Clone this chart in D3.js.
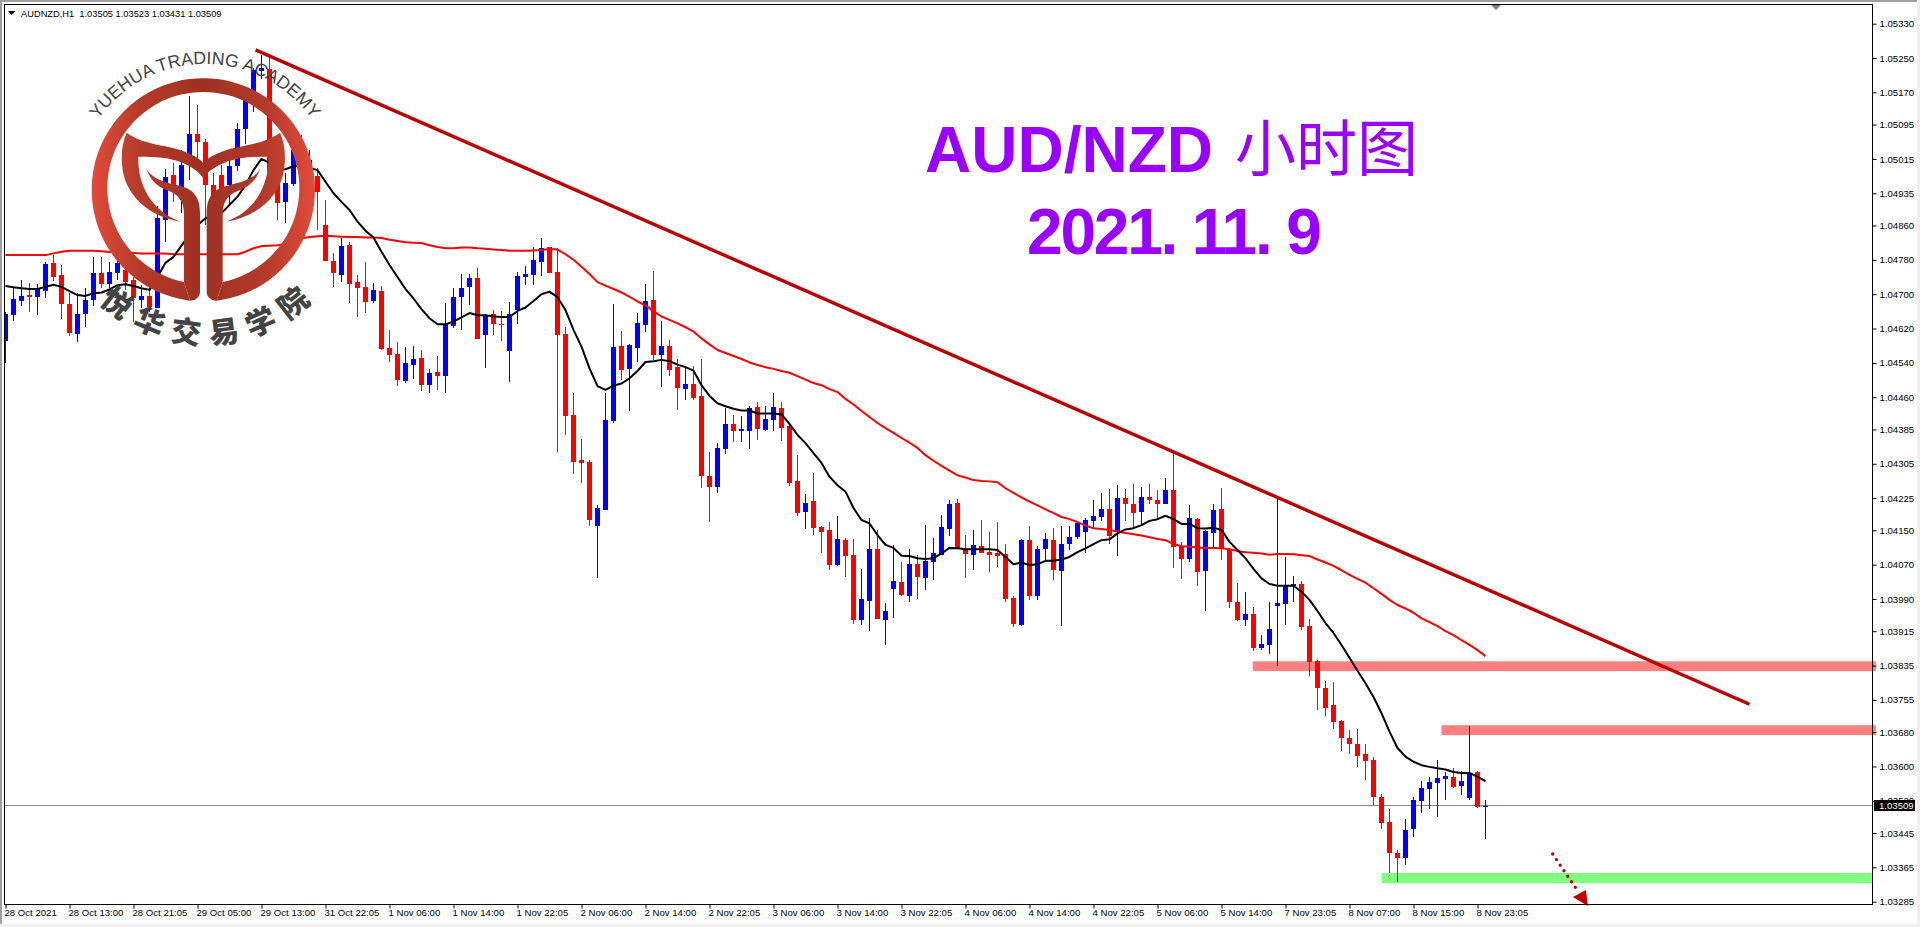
<!DOCTYPE html>
<html>
<head>
<meta charset="utf-8">
<title>AUD/NZD H1</title>
<script src="https://cdnjs.cloudflare.com/ajax/libs/d3/7.8.5/d3.min.js"></script>
<style>
  html, body { margin: 0; padding: 0; background: #fff; overflow: hidden; }
  svg { display: block; }
  .axis text { font-family: "Liberation Sans", sans-serif; font-size: 9.6px; fill: #000; }
  .axis line { stroke: #000; }
</style>
</head>
<body>
<svg width="1920" height="927"></svg>
<script>
const opens = [
  1.04592,1.04651,1.04684,1.04698,1.04694,1.04708,1.04772,1.04744,1.04677,1.04607,
  1.04655,1.04686,1.04749,1.04724,1.04749,1.04756,1.04733,1.04686,1.04696,1.04668,
  1.04873,1.04977,1.04943,1.05001,1.05073,1.05054,1.04954,1.04977,1.04954,1.04998,
  1.05085,1.05152,1.05220,1.05224,1.04984,1.04915,1.04956,1.05047,1.04975,1.04975,
  1.04861,1.04777,1.04744,1.04814,1.04729,1.04717,1.04685,1.04707,1.04575,1.04561,
  1.04498,1.04536,1.04551,1.04488,1.04519,1.04510,1.04626,1.04694,1.04716,1.04737,
  1.04605,1.04654,1.04630,1.04568,1.04663,1.04741,1.04744,1.04775,1.04809,1.04752,
  1.04607,1.04418,1.04314,1.04309,1.04160,1.04197,1.04404,1.04579,1.04526,1.04575,
  1.04628,1.04686,1.04558,1.04579,1.04530,1.04479,1.04491,1.04463,1.04276,1.04251,
  1.04339,1.04398,1.04381,1.04381,1.04437,1.04384,1.04407,1.04435,1.04393,1.04265,
  1.04193,1.04218,1.04158,1.04151,1.04069,1.04127,1.04092,1.03941,1.03985,1.04106,
  1.03941,1.04013,1.04030,1.03997,1.04071,1.04039,1.04076,1.04092,1.04153,1.04213,
  1.04104,1.04092,1.04113,1.04099,1.04097,1.04095,1.03992,1.03929,1.04127,1.03997,
  1.04106,1.04127,1.04055,1.04118,1.04134,1.04146,1.04172,1.04181,1.04200,1.04148,
  1.04225,1.04211,1.04193,1.04227,1.04221,1.04211,1.04244,1.04113,1.04083,1.04176,
  1.04055,1.04144,1.04200,1.04106,1.03983,1.03941,1.03955,1.03876,1.03883,1.03974,
  1.03978,1.04020,1.04025,1.03927,1.03845,1.03783,1.03743,1.03706,1.03666,1.03652,
  1.03629,1.03615,1.03529,1.03471,1.03398,1.03387,1.03454,1.03520,1.03547,1.03561,
  1.03571,1.03575,1.03554,1.03526,1.03587,1.03505
];
const highs = [
  1.04659,1.04714,1.04733,1.04726,1.04724,1.04775,1.04791,1.04768,1.04703,1.04703,
  1.04714,1.04786,1.04786,1.04775,1.04803,1.04784,1.04741,1.04721,1.04717,1.04905,
  1.04991,1.05005,1.05036,1.05161,1.05140,1.05061,1.04982,1.05001,1.05012,1.05098,
  1.05164,1.05227,1.05257,1.05250,1.05001,1.04982,1.05082,1.05071,1.05036,1.04994,
  1.04919,1.04796,1.04831,1.04821,1.04744,1.04775,1.04726,1.04719,1.04616,1.04589,
  1.04578,1.04579,1.04570,1.04525,1.04556,1.04679,1.04714,1.04747,1.04747,1.04760,
  1.04654,1.04663,1.04661,1.04681,1.04752,1.04765,1.04809,1.04832,1.04810,1.04807,
  1.04623,1.04471,1.04363,1.04314,1.04209,1.04470,1.04677,1.04614,1.04585,1.04657,
  1.04723,1.04754,1.04637,1.04593,1.04548,1.04531,1.04533,1.04548,1.04333,1.04353,
  1.04435,1.04418,1.04417,1.04439,1.04449,1.04439,1.04470,1.04449,1.04395,1.04325,
  1.04235,1.04284,1.04160,1.04169,1.04183,1.04132,1.04130,1.04060,1.04179,1.04151,
  1.03981,1.04116,1.04076,1.04106,1.04092,1.04162,1.04132,1.04186,1.04221,1.04223,
  1.04139,1.04151,1.04174,1.04146,1.04169,1.04118,1.03996,1.04130,1.04160,1.04113,
  1.04144,1.04155,1.04160,1.04160,1.04169,1.04179,1.04221,1.04237,1.04246,1.04255,
  1.04246,1.04258,1.04251,1.04258,1.04244,1.04272,1.04330,1.04123,1.04209,1.04179,
  1.04150,1.04211,1.04248,1.04108,1.04027,1.04006,1.03971,1.03906,1.03983,1.04225,
  1.04088,1.04043,1.04032,1.03943,1.03848,1.03799,1.03797,1.03708,1.03685,1.03687,
  1.03652,1.03622,1.03536,1.03501,1.03405,1.03478,1.03529,1.03566,1.03575,1.03615,
  1.03587,1.03596,1.03589,1.03694,1.03589,1.03523
];
const lows = [
  1.04540,1.04638,1.04672,1.04659,1.04651,1.04692,1.04731,1.04642,1.04603,1.04589,
  1.04624,1.04672,1.04715,1.04714,1.04733,1.04710,1.04636,1.04668,1.04659,1.04668,
  1.04822,1.04915,1.04889,1.04966,1.05017,1.04861,1.04903,1.04908,1.04908,1.04987,
  1.05050,1.05125,1.05201,1.04970,1.04873,1.04866,1.04952,1.04977,1.04943,1.04849,
  1.04778,1.04717,1.04729,1.04680,1.04647,1.04657,1.04680,1.04571,1.04543,1.04487,
  1.04494,1.04502,1.04474,1.04470,1.04477,1.04469,1.04622,1.04616,1.04675,1.04596,
  1.04529,1.04605,1.04592,1.04496,1.04630,1.04721,1.04721,1.04742,1.04750,1.04333,
  1.04372,1.04281,1.04261,1.04160,1.04039,1.04197,1.04400,1.04500,1.04428,1.04542,
  1.04612,1.04547,1.04484,1.04510,1.04430,1.04453,1.04453,1.04249,1.04169,1.04237,
  1.04328,1.04356,1.04356,1.04339,1.04360,1.04381,1.04381,1.04358,1.04253,1.04183,
  1.04153,1.04139,1.04097,1.04058,1.04067,1.04041,1.03932,1.03929,1.03915,1.03943,
  1.03883,1.03946,1.03997,1.03983,1.03990,1.04011,1.04034,1.04092,1.04137,1.04109,
  1.04039,1.04058,1.04097,1.04053,1.04065,1.03983,1.03925,1.03927,1.03988,1.03988,
  1.04081,1.04034,1.03927,1.04104,1.04130,1.04097,1.04155,1.04172,1.04118,1.04090,
  1.04172,1.04153,1.04165,1.04211,1.04174,1.04211,1.04062,1.04037,1.04076,1.04020,
  1.03962,1.04109,1.04081,1.03969,1.03939,1.03927,1.03869,1.03871,1.03862,1.03834,
  1.03929,1.03983,1.03918,1.03811,1.03731,1.03717,1.03687,1.03636,1.03629,1.03599,
  1.03568,1.03510,1.03454,1.03352,1.03331,1.03370,1.03436,1.03492,1.03501,1.03482,
  1.03522,1.03550,1.03533,1.03522,1.03503,1.03431
];
const closes = [
  1.04654,1.04689,1.04696,1.04693,1.04711,1.04770,1.04741,1.04678,1.04610,1.04654,
  1.04686,1.04749,1.04724,1.04751,1.04772,1.04728,1.04691,1.04696,1.04669,1.04877,
  1.04974,1.04954,1.05001,1.05073,1.05055,1.04954,1.04926,1.04943,1.04998,1.05085,
  1.05152,1.05222,1.05226,1.04984,1.04913,1.04959,1.05036,1.05001,1.05012,1.04938,
  1.04778,1.04750,1.04812,1.04724,1.04715,1.04682,1.04710,1.04572,1.04559,1.04501,
  1.04540,1.04549,1.04488,1.04516,1.04510,1.04630,1.04693,1.04714,1.04737,1.04596,
  1.04652,1.04631,1.04629,1.04655,1.04742,1.04747,1.04780,1.04807,1.04750,1.04605,
  1.04417,1.04310,1.04307,1.04174,1.04202,1.04407,1.04577,1.04523,1.04581,1.04633,
  1.04684,1.04558,1.04579,1.04523,1.04481,1.04491,1.04458,1.04276,1.04251,1.04342,
  1.04398,1.04381,1.04385,1.04434,1.04386,1.04409,1.04437,1.04388,1.04260,1.04190,
  1.04213,1.04155,1.04146,1.04069,1.04130,1.04090,1.03941,1.03990,1.04106,1.03943,
  1.03962,1.04032,1.03999,1.04071,1.04041,1.04078,1.04097,1.04158,1.04211,1.04109,
  1.04095,1.04116,1.04097,1.04092,1.04090,1.03990,1.03932,1.04127,1.03997,1.04106,
  1.04130,1.04058,1.04118,1.04134,1.04167,1.04174,1.04183,1.04200,1.04137,1.04225,
  1.04211,1.04190,1.04227,1.04221,1.04211,1.04244,1.04111,1.04083,1.04179,1.04053,
  1.04148,1.04197,1.04106,1.03983,1.03941,1.03955,1.03876,1.03885,1.03920,1.03981,
  1.04020,1.04025,1.03925,1.03844,1.03783,1.03736,1.03703,1.03666,1.03652,1.03624,
  1.03613,1.03529,1.03468,1.03398,1.03387,1.03452,1.03522,1.03550,1.03564,1.03573,
  1.03578,1.03552,1.03566,1.03585,1.03505,1.03509
];
// black moving average, one value a bar
const fast_ma = [
  1.04719,1.04716,1.04714,1.04712,1.04712,1.04717,1.04722,1.04717,1.04707,1.04698,
  1.04696,1.04702,1.04704,1.04711,1.04721,1.04723,1.04719,1.04714,1.04710,1.04740,
  1.04773,1.04787,1.04813,1.04838,1.04861,1.04877,1.04884,1.04889,1.04908,1.04927,
  1.04954,1.04989,1.05015,1.05006,1.04989,1.04991,1.04998,1.04999,1.04994,1.04989,
  1.04962,1.04935,1.04915,1.04896,1.04869,1.04848,1.04832,1.04799,1.04768,1.04740,
  1.04712,1.04690,1.04665,1.04644,1.04630,1.04630,1.04636,1.04646,1.04656,1.04651,
  1.04651,1.04648,1.04647,1.04647,1.04661,1.04669,1.04684,1.04700,1.04706,1.04693,
  1.04663,1.04617,1.04578,1.04527,1.04486,1.04477,1.04487,1.04492,1.04504,1.04521,
  1.04542,1.04544,1.04547,1.04544,1.04536,1.04530,1.04522,1.04488,1.04463,1.04446,
  1.04439,1.04433,1.04429,1.04429,1.04422,1.04422,1.04422,1.04420,1.04398,1.04372,
  1.04353,1.04330,1.04307,1.04275,1.04255,1.04240,1.04202,1.04174,1.04166,1.04139,
  1.04116,1.04109,1.04091,1.04090,1.04085,1.04083,1.04085,1.04096,1.04109,1.04108,
  1.04106,1.04106,1.04106,1.04106,1.04104,1.04088,1.04071,1.04075,1.04069,1.04071,
  1.04079,1.04079,1.04082,1.04088,1.04099,1.04108,1.04118,1.04127,1.04129,1.04143,
  1.04152,1.04155,1.04162,1.04172,1.04176,1.04184,1.04176,1.04165,1.04165,1.04155,
  1.04154,1.04156,1.04151,1.04123,1.04104,1.04085,1.04060,1.04038,1.04025,1.04021,
  1.04021,1.04021,1.04007,1.03988,1.03962,1.03934,1.03911,1.03883,1.03853,1.03823,
  1.03794,1.03762,1.03724,1.03681,1.03643,1.03623,1.03611,1.03603,1.03599,1.03596,
  1.03593,1.03587,1.03585,1.03585,1.03576,1.03566
];
// red moving average, one value a bar
const slow_ma = [
  1.04791,1.04791,1.04791,1.04791,1.04791,1.04791,1.04795,1.04799,1.04801,1.04801,
  1.04801,1.04801,1.04800,1.04798,1.04797,1.04797,1.04796,1.04795,1.04795,1.04795,
  1.04795,1.04793,1.04793,1.04793,1.04793,1.04793,1.04793,1.04793,1.04793,1.04793,
  1.04799,1.04807,1.04812,1.04813,1.04814,1.04817,1.04824,1.04830,1.04833,1.04835,
  1.04836,1.04835,1.04834,1.04833,1.04833,1.04832,1.04832,1.04831,1.04827,1.04824,
  1.04821,1.04820,1.04819,1.04814,1.04810,1.04807,1.04807,1.04809,1.04809,1.04807,
  1.04806,1.04804,1.04803,1.04801,1.04801,1.04801,1.04802,1.04803,1.04805,1.04804,
  1.04793,1.04780,1.04764,1.04747,1.04728,1.04720,1.04712,1.04704,1.04694,1.04683,
  1.04674,1.04660,1.04648,1.04640,1.04632,1.04623,1.04613,1.04597,1.04583,1.04570,
  1.04563,1.04556,1.04549,1.04541,1.04535,1.04530,1.04526,1.04521,1.04517,1.04509,
  1.04501,1.04493,1.04488,1.04479,1.04472,1.04456,1.04443,1.04428,1.04414,1.04400,
  1.04388,1.04377,1.04365,1.04354,1.04342,1.04325,1.04312,1.04300,1.04289,1.04278,
  1.04273,1.04267,1.04265,1.04264,1.04262,1.04248,1.04237,1.04227,1.04217,1.04208,
  1.04199,1.04190,1.04181,1.04176,1.04169,1.04161,1.04155,1.04153,1.04151,1.04147,
  1.04144,1.04141,1.04138,1.04134,1.04130,1.04127,1.04118,1.04113,1.04112,1.04110,
  1.04109,1.04109,1.04108,1.04106,1.04102,1.04099,1.04098,1.04096,1.04093,1.04095,
  1.04095,1.04094,1.04092,1.04090,1.04082,1.04075,1.04067,1.04057,1.04046,1.04037,
  1.04028,1.04015,1.04002,1.03988,1.03976,1.03968,1.03958,1.03945,1.03936,1.03927,
  1.03915,1.03906,1.03894,1.03883,1.03871,1.03857
];

const price_ticks = [1.05330,1.05250,1.05170,1.05095,1.05015,1.04935,1.04860,1.04780,1.04700,
  1.04620,1.04540,1.04460,1.04385,1.04305,1.04225,1.04150,1.04070,1.03990,1.03915,1.03835,
  1.03755,1.03680,1.03600,1.03520,1.03445,1.03365,1.03285];
const time_labels = ["28 Oct 2021","28 Oct 13:00","28 Oct 21:05","29 Oct 05:00","29 Oct 13:00",
  "31 Oct 22:05","1 Nov 06:00","1 Nov 14:00","1 Nov 22:05","2 Nov 06:00","2 Nov 14:00",
  "2 Nov 22:05","3 Nov 06:00","3 Nov 14:00","3 Nov 22:05","4 Nov 06:00","4 Nov 14:00",
  "4 Nov 22:05","5 Nov 06:00","5 Nov 14:00","7 Nov 23:05","8 Nov 07:00","8 Nov 15:00","8 Nov 23:05"];

const last_price = 1.03509;
const header_text = "AUDNZD,H1  1.03505 1.03523 1.03431 1.03509";

// hand drawn objects on the chart, in bar index and price
const trend_bars = [31.25, 218];
const trend_prices = [1.05269, 1.03745];
const zone_from = [155.9, 179.5, 172];
const zone_to = [233.8, 233.8, 233.3];
const zone_top = [1.03845, 1.03696, 1.03352];
const zone_bottom = [1.03822, 1.03673, 1.03328];
const arrow_bars = [193.4, 197.8];
const arrow_prices = [1.03396, 1.03275];

const academy_en = "YUEHUA TRADING ACADEMY";
const academy_cn = ["悦","华","交","易","学","院"];

const svg = d3.select("svg");

const x = d3.scaleLinear().domain([0, 185]).range([5.5, 1485.5]);
const y = d3.scaleLinear().domain([1.03285, 1.05330]).range([901.7, 23.7]);

function draw_window() {
  svg.append("rect").attr("x", 0).attr("y", 0).attr("width", 1920).attr("height", 2).attr("fill", "#a0a0a0");
  svg.append("rect").attr("x", 0).attr("y", 0).attr("width", 2).attr("height", 927).attr("fill", "#a0a0a0");
  svg.append("rect").attr("x", 0).attr("y", 924).attr("width", 1920).attr("height", 3).attr("fill", "#f0f0f0");
  svg.append("rect").attr("x", 1917).attr("y", 0).attr("width", 3).attr("height", 927).attr("fill", "#f0f0f0");
  svg.append("defs").append("clipPath").attr("id", "plot")
     .append("rect").attr("x", 4).attr("y", 4).attr("width", 1868).attr("height", 900);
}

function draw_zones() {
  const colors = ["#ff8080", "#ff8080", "#80ff80"];
  svg.append("g").selectAll("rect")
     .data(zone_from)
     .enter()
     .append("rect")
     .attr("x", (d) => x(d))
     .attr("width", (d, i) => x(zone_to[i]) - x(d))
     .attr("y", (d, i) => y(zone_top[i]))
     .attr("height", (d, i) => y(zone_bottom[i]) - y(zone_top[i]))
     .attr("fill", (d, i) => colors[i]);
}

function draw_last_price() {
  svg.append("line")
     .attr("x1", 4).attr("x2", 1872)
     .attr("y1", y(last_price)).attr("y2", y(last_price))
     .attr("stroke", "#778899")
     .attr("shape-rendering", "crispEdges");
}

function draw_candles() {
  const bar_color = (i) => closes[i] >= opens[i] ? "#0000ff" : "#ff0000";
  const g = svg.append("g").attr("clip-path", "url(#plot)").attr("shape-rendering", "crispEdges");

  g.selectAll("line")
   .data(opens)
   .enter()
   .append("line")
   .attr("x1", (d, i) => x(i))
   .attr("x2", (d, i) => x(i))
   .attr("y1", (d, i) => y(highs[i]))
   .attr("y2", (d, i) => y(lows[i]))
   .attr("stroke", (d, i) => bar_color(i));

  g.selectAll("rect")
   .data(opens)
   .enter()
   .append("rect")
   .attr("x", (d, i) => x(i) - 2.5)
   .attr("width", 5)
   .attr("y", (d, i) => y(Math.max(d, closes[i])))
   .attr("height", (d, i) => Math.max(1, Math.abs(y(d) - y(closes[i]))))
   .attr("fill", (d, i) => bar_color(i));
}

function draw_ma(values, color, width) {
  const line = d3.line().x((d, i) => x(i)).y((d) => y(d));
  svg.append("path")
     .attr("clip-path", "url(#plot)")
     .attr("d", line(values))
     .attr("fill", "none")
     .attr("stroke", color)
     .attr("stroke-width", width)
     .attr("stroke-linejoin", "round");
}

function draw_trend_and_arrow() {
  svg.append("line")
     .attr("x1", x(trend_bars[0])).attr("y1", y(trend_prices[0]))
     .attr("x2", x(trend_bars[1])).attr("y2", y(trend_prices[1]))
     .attr("stroke", "#bb0000")
     .attr("stroke-width", 3.4);

  // dotted arrow, the head sits at the end of the dots
  const x0 = x(arrow_bars[0]), y0 = y(arrow_prices[0]);
  const x1 = x(arrow_bars[1]), y1 = y(arrow_prices[1]);
  svg.append("line")
     .attr("x1", x0).attr("y1", y0)
     .attr("x2", x0 + (x1 - x0) * 0.72).attr("y2", y0 + (y1 - y0) * 0.72)
     .attr("stroke", "#c00000")
     .attr("stroke-width", 3.4)
     .attr("stroke-linecap", "round")
     .attr("stroke-dasharray", "0,6.7");
  svg.append("path")
     .attr("d", "M" + x1 + "," + y1 + "L" + (x1 - 15) + "," + (y1 - 9) + "L" + (x1 - 2) + "," + (y1 - 16) + "Z")
     .attr("fill", "#c00000");
}

function draw_axes() {
  // frame
  svg.append("rect")
     .attr("x", 4.5).attr("y", 4.5).attr("width", 1868).attr("height", 900)
     .attr("fill", "none").attr("stroke", "#000")
     .attr("shape-rendering", "crispEdges");

  const price_axis = d3.axisRight(y)
    .tickValues(price_ticks)
    .tickFormat(d3.format(".5f"))
    .tickSizeOuter(0)
    .tickSize(4)
    .tickPadding(3);
  const pg = svg.append("g").attr("class", "axis").attr("transform", "translate(1872.5,0)").call(price_axis);
  pg.select(".domain").remove();

  const time_axis = d3.axisBottom(x)
    .tickValues(time_labels.map((d, i) => i * 8))
    .tickFormat((d) => time_labels[d / 8])
    .tickSizeOuter(0)
    .tickSize(4)
    .tickPadding(3);
  const tg = svg.append("g").attr("class", "axis").attr("transform", "translate(0,904.5)").call(time_axis);
  tg.select(".domain").remove();
  tg.selectAll("text").attr("text-anchor", "start").attr("dx", -1.5).attr("y", 5);

  // current price tag on the right axis
  svg.append("rect")
     .attr("x", 1874).attr("y", y(last_price) - 5.5).attr("width", 41).attr("height", 11)
     .attr("fill", "#000");
  svg.append("text")
     .attr("x", 1879).attr("y", y(last_price) + 3.5)
     .attr("font-family", "Liberation Sans, sans-serif").attr("font-size", "9.6px")
     .attr("fill", "#fff")
     .text(d3.format(".5f")(last_price));

  // chart header and the shift marker
  svg.append("path").attr("d", "M8,11L15.5,11L11.7,15Z").attr("fill", "#000");
  svg.append("text")
     .attr("x", 21).attr("y", 16.5)
     .attr("font-family", "Liberation Sans, sans-serif").attr("font-size", "9.3px")
     .attr("fill", "#000")
     .style("white-space", "pre")
     .text(header_text);
  svg.append("path").attr("d", "M1491,5L1501,5L1496,10Z").attr("fill", "#708090");
}

function draw_title() {
  const purple = "#9900ff";
  const latin = "Liberation Sans, Arial, sans-serif";
  svg.append("text")
     .attr("x", 925).attr("y", 172)
     .attr("font-family", latin).attr("font-weight", "bold").attr("font-size", "64px")
     .attr("fill", purple)
     .text("AUD/NZD");
  svg.append("text")
     .attr("x", 1235).attr("y", 171)
     .attr("font-family", "Noto Sans CJK SC, sans-serif").attr("font-size", "61px")
     .attr("fill", purple)
     .text("小时图");
  svg.append("text")
     .attr("x", 1027).attr("y", 254)
     .attr("font-family", latin).attr("font-weight", "bold").attr("font-size", "64px")
     .attr("letter-spacing", "-2.2px")
     .attr("fill", purple)
     .text("2021. 11. 9");
}

function draw_logo() {
  const defs = svg.select("defs");
  const grad = defs.append("linearGradient")
    .attr("id", "logo_fill")
    .attr("gradientUnits", "userSpaceOnUse")
    .attr("x1", 95).attr("x2", 765).attr("y1", 0).attr("y2", 0);
  grad.append("stop").attr("offset", 0).attr("stop-color", "#e14b3a");
  grad.append("stop").attr("offset", 0.22).attr("stop-color", "#b53a2a");
  grad.append("stop").attr("offset", 0.5).attr("stop-color", "#9e3122");
  grad.append("stop").attr("offset", 0.78).attr("stop-color", "#b53a2a");
  grad.append("stop").attr("offset", 1).attr("stop-color", "#e14b3a");

  // drawn at three times size, then shrunk into place
  const g = svg.append("g").attr("transform", "translate(60,50) scale(0.33333)");
  g.append("path")
   .attr("d", "M390,752 A335,335 0 1,1 470,752 L488,696 A288,288 0 1,0 372,696 Z")
   .attr("fill", "url(#logo_fill)");

  const half = "M200,248 C250,285 320,285 360,300 C395,312 420,325 430,340 L430,385 C410,355 370,335 320,325 "
    + "C290,320 260,320 235,320 C232,400 270,480 360,515 C270,500 200,440 188,360 C182,320 185,280 200,248 Z "
    + "M255,342 C262,380 305,395 350,405 C400,415 420,440 420,490 L420,725 C420,742 405,752 390,752 "
    + "L372,696 L372,490 C372,450 350,430 320,420 C290,410 265,385 255,342 Z";
  g.append("path").attr("d", half).attr("fill", "url(#logo_fill)");
  g.append("path").attr("d", half).attr("fill", "url(#logo_fill)").attr("transform", "translate(860,0) scale(-1,1)");

  // curved lettering round the ring
  defs.append("path").attr("id", "academy_arc").attr("d", "M74,195 A131,131 0 0,1 336,195");
  svg.append("text")
     .attr("font-family", "Liberation Sans, sans-serif").attr("font-size", "17.8px")
     .attr("fill", "#444")
     .append("textPath")
     .attr("href", "#academy_arc")
     .attr("startOffset", "50%")
     .attr("text-anchor", "middle")
     .text(academy_en);

  const cx = 205, cy = 190, r = 143;
  const step = 15.2;
  svg.append("g").selectAll("text")
     .data(academy_cn)
     .enter()
     .append("text")
     .attr("transform", (d, i) => {
       const a = (i - 2.5) * step;
       const rad = a * Math.PI / 180;
       return "translate(" + (cx + r * Math.sin(rad)) + "," + (cy + r * Math.cos(rad)) + ") rotate(" + (-a) + ")";
     })
     .attr("text-anchor", "middle")
     .attr("dy", "0.37em")
     .attr("font-family", "Noto Sans CJK SC, sans-serif")
     .attr("font-weight", "900")
     .attr("font-size", "30px")
     .attr("fill", "#444")
     .text((d) => d);
}

draw_window();
draw_zones();
draw_last_price();
draw_candles();
draw_ma(slow_ma, "#ff0000", 2);
draw_ma(fast_ma, "#000000", 2);
draw_trend_and_arrow();
draw_axes();
draw_logo();
draw_title();
</script>
</body>
</html>
